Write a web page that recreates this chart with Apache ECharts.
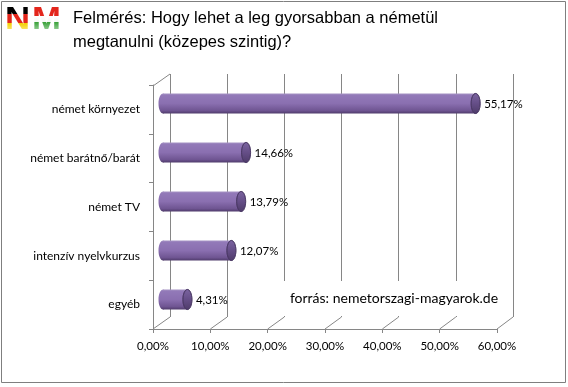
<!DOCTYPE html>
<html><head><meta charset="utf-8">
<script src="https://cdn.jsdelivr.net/npm/echarts@6/dist/echarts.min.js"></script>
<style>
html,body{margin:0;padding:0;background:#fff}
#wrap{position:relative;width:568px;height:387px}
#c{width:568px;height:387px}
.lg{position:absolute;top:2px;font:bold 31px "Liberation Sans",sans-serif;line-height:34px;color:transparent;-webkit-background-clip:text;background-clip:text;transform:scaleX(1.12);transform-origin:left top}
#lgN{left:5px;background-image:linear-gradient(to bottom,#000 0%,#000 36%,#e3261c 36%,#e3261c 62%,#f3cf00 62%,#fbe97a 85%,#fffbe8 100%)}
#lgM{left:32px;background-image:linear-gradient(to bottom,#e3261c 0%,#e3261c 40%,#fff 40%,#f4f8f4 60%,#3ca33c 60%,#9fd39f 85%,#eef8ee 100%)}
</style>
</head><body><div id="wrap"><div id="c"></div><div class="lg" id="lgN">N</div><div class="lg" id="lgM">M</div></div>
<script>
const categories = ['német környezet','német barátnő/barát','német TV','intenzív nyelvkurzus','egyéb'];
const values = [55.17, 14.66, 13.79, 12.07, 4.31];
const axisMin = 0, axisMax = 60, axisStep = 10;
const titleLines = ['Felmérés: Hogy lehet a leg gyorsabban a németül', 'megtanulni (közepes szintig)?'];
const sourceText = 'forrás: nemetorszagi-magyarok.de';

const fmt = v => v.toFixed(2).replace('.', ',') + '%';
const lineCol = '#868686';
const labelFont = 'Lato, "Liberation Sans", sans-serif';

const chart = echarts.init(document.getElementById('c'), null, {renderer: 'canvas'});

function cyl(params, api) {
  const v = api.value(0), idx = api.value(1);
  const s = api.coord([0, idx]), e = api.coord([v, idx]);
  const band = api.size([0, 1])[1];
  const h = band * 0.41, ry = h / 2, rx = 4.5;
  const y0 = e[1] - ry;
  const grad = new echarts.graphic.LinearGradient(0, 0, 0, 1, [
    {offset: 0, color: '#a593c4'}, {offset: 0.1, color: '#9279b8'},
    {offset: 0.5, color: '#8a6fb0'}, {offset: 0.85, color: '#6f5592'}, {offset: 1, color: '#4f3b6b'}
  ]);
  const capGrad = new echarts.graphic.LinearGradient(0, 0, 0, 1, [
    {offset: 0, color: '#7b64a0'}, {offset: 0.5, color: '#654e87'}, {offset: 1, color: '#4e3b69'}
  ]);
  return {type: 'group', children: [
    {type: 'ellipse', shape: {cx: s[0], cy: e[1], rx: rx, ry: ry}, style: {fill: grad}},
    {type: 'rect', shape: {x: s[0], y: y0, width: e[0] - s[0], height: h}, style: {fill: grad}},
    {type: 'ellipse', shape: {cx: e[0], cy: e[1], rx: rx, ry: ry}, style: {fill: capGrad, stroke: '#4a3864', lineWidth: 0.8}},
    {type: 'text', style: {x: e[0] + rx + 4, y: e[1] + 1, text: fmt(v), fill: '#000', font: '11.5px ' + labelFont, textVerticalAlign: 'middle', textAlign: 'left'}}
  ]};
}

const back = {left: 170, right: 55, top: 74, bottom: 70};
const front = {left: 153, right: 71, top: 85, bottom: 58};

chart.setOption({
  animation: false,
  grid: [
    Object.assign({}, back),
    Object.assign({}, front),
    {left: 163, right: 65, top: 79, bottom: 63}
  ],
  xAxis: [
    {gridIndex: 0, type: 'value', min: axisMin, max: axisMax, interval: axisStep,
     axisLine: {show: false}, axisTick: {show: false}, axisLabel: {show: false},
     splitLine: {show: true, lineStyle: {color: lineCol, width: 1}}},
    {gridIndex: 1, type: 'value', min: axisMin, max: axisMax, interval: axisStep,
     axisLine: {show: true, lineStyle: {color: lineCol}}, axisTick: {show: true, length: 4, lineStyle: {color: lineCol}},
     axisLabel: {formatter: v => fmt(v), color: '#000', fontSize: 11.5, fontFamily: labelFont, margin: 11},
     splitLine: {show: false}},
    {gridIndex: 2, type: 'value', min: axisMin, max: axisMax, show: false}
  ],
  yAxis: [
    {gridIndex: 0, type: 'value', show: false},
    {gridIndex: 1, type: 'category', data: categories, inverse: true,
     axisLine: {show: true, lineStyle: {color: lineCol}}, axisTick: {show: true, length: 4, lineStyle: {color: lineCol}},
     axisLabel: {color: '#000', fontSize: 12, fontFamily: labelFont, margin: 13}},
    {gridIndex: 2, type: 'category', data: categories, inverse: true, show: false}
  ],
  series: [{
    type: 'custom', xAxisIndex: 2, yAxisIndex: 2,
    renderItem: cyl, data: values.map((v, i) => [v, i]), z: 5
  }]
});

// wall / floor edges computed from both axes
const g = [];
const backBottom = 387 - back.bottom, frontBottom = 387 - front.bottom;
for (let v = axisMin; v <= axisMax; v += axisStep) {
  const xb = chart.convertToPixel({xAxisIndex: 0}, v);
  const xf = chart.convertToPixel({xAxisIndex: 1}, v);
  g.push({type: 'line', shape: {x1: xb, y1: backBottom, x2: xf, y2: frontBottom}, style: {stroke: lineCol, lineWidth: 1}, z: 1});
}
const xb0 = chart.convertToPixel({xAxisIndex: 0}, axisMin), xf0 = chart.convertToPixel({xAxisIndex: 1}, axisMin);
g.push({type: 'line', shape: {x1: xf0, y1: front.top + 1, x2: xb0, y2: back.top}, style: {stroke: lineCol, lineWidth: 1}, z: 1});
// source box
g.push({type: 'rect', shape: {x: 282, y: 281, width: 226, height: 35}, style: {fill: '#fff'}, z: 3});
g.push({type: 'text', style: {x: 394, y: 298, text: sourceText, font: '14px ' + labelFont, fill: '#000', textAlign: 'center', textVerticalAlign: 'middle'}, z: 4});
// title
g.push({type: 'text', style: {x: 73, y: 18, text: titleLines[0], font: '16.5px "Liberation Sans", sans-serif', fill: '#000', textVerticalAlign: 'middle'}, z: 4});
g.push({type: 'text', style: {x: 73, y: 42, text: titleLines[1], font: '16.5px "Liberation Sans", sans-serif', fill: '#000', textVerticalAlign: 'middle'}, z: 4});
g.push({type: 'rect', shape: {x: 1.5, y: 1.5, width: 564, height: 381}, style: {fill: 'none', stroke: '#7f7f7f', lineWidth: 1}, z: 10});
chart.setOption({graphic: g});
</script></body></html>
